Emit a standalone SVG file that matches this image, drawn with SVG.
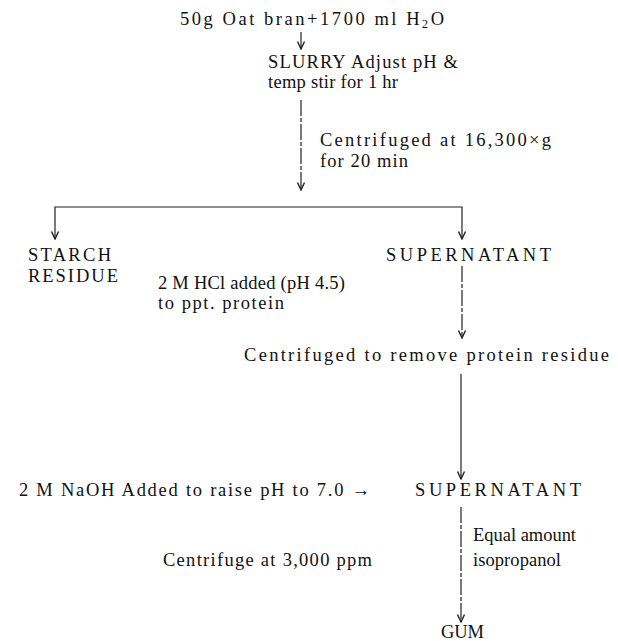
<svg xmlns="http://www.w3.org/2000/svg" width="618" height="641" viewBox="0 0 618 641">
<defs>
<style>
text{font-family:"Liberation Serif","Times New Roman",serif;font-size:18.5px;fill:#111}
.ln{stroke:#222;stroke-width:1.2;fill:none}
.dash{stroke:#222;stroke-width:1.2;fill:none;stroke-dasharray:16 2 4 2}
</style>
<marker id="ah" viewBox="0 0 10 10" refX="9.5" refY="5" markerWidth="10" markerHeight="10" orient="auto-start-reverse" markerUnits="userSpaceOnUse">
<path d="M2,1.5 L9.5,5 L2,8.5" fill="none" stroke="#222" stroke-width="1.4"/>
</marker>
</defs>
<rect width="618" height="641" fill="#fff"/>
<g id="connectors">
<line class="ln" x1="301" y1="32" x2="301" y2="49" marker-end="url(#ah)"/>
<line class="dash" x1="301" y1="100" x2="301" y2="190" marker-end="url(#ah)"/>
<polyline class="ln" points="55,239 55,207 462,207 462,239" marker-start="url(#ah)" marker-end="url(#ah)"/>
<line class="dash" x1="462" y1="266" x2="462" y2="338" marker-end="url(#ah)"/>
<line class="ln" x1="461" y1="374" x2="461" y2="479" marker-end="url(#ah)"/>
<line class="dash" x1="461" y1="507" x2="461" y2="622" marker-end="url(#ah)"/>
</g>
<g id="start"><text x="180" y="25" textLength="264" lengthAdjust="spacing">50g  Oat  bran+1700 ml  H<tspan font-size="12" dy="3">2</tspan><tspan dy="-3">O</tspan></text></g>
<g id="slurry"><text x="268" y="68" textLength="190" lengthAdjust="spacing">SLURRY Adjust pH &amp;</text><text x="268" y="88" textLength="130" lengthAdjust="spacing">temp stir for 1 hr</text></g>
<g id="centrifuge1"><text x="320" y="146" textLength="231" lengthAdjust="spacing">Centrifuged  at  16,300×g</text><text x="320" y="167" textLength="88" lengthAdjust="spacing">for  20 min</text></g>
<g id="starch"><text x="28" y="261" textLength="83" lengthAdjust="spacing">STARCH</text><text x="28" y="282" textLength="90" lengthAdjust="spacing">RESIDUE</text></g>
<g id="supernatant1"><text x="386" y="261" textLength="165" lengthAdjust="spacing">SUPERNATANT</text></g>
<g id="hcl"><text x="158" y="289" textLength="187" lengthAdjust="spacing">2 M  HCl added (pH 4.5)</text><text x="158" y="309" textLength="126" lengthAdjust="spacing">to ppt. protein</text></g>
<g id="centrifuge2"><text x="244" y="361" textLength="365" lengthAdjust="spacing">Centrifuged to remove protein residue</text></g>
<g id="naoh"><text x="19" y="496" textLength="351" lengthAdjust="spacing">2 M NaOH Added to raise pH to 7.0 →</text></g>
<g id="supernatant2"><text x="415" y="496" textLength="166" lengthAdjust="spacing">SUPERNATANT</text></g>
<g id="isopropanol"><text x="473" y="541" textLength="103" lengthAdjust="spacing">Equal amount</text><text x="473" y="566" textLength="88" lengthAdjust="spacing">isopropanol</text></g>
<g id="centrifuge3"><text x="163" y="566" textLength="209" lengthAdjust="spacing">Centrifuge at 3,000 ppm</text></g>
<g id="gum"><text x="441" y="638" textLength="43" lengthAdjust="spacing">GUM</text></g>
</svg>
